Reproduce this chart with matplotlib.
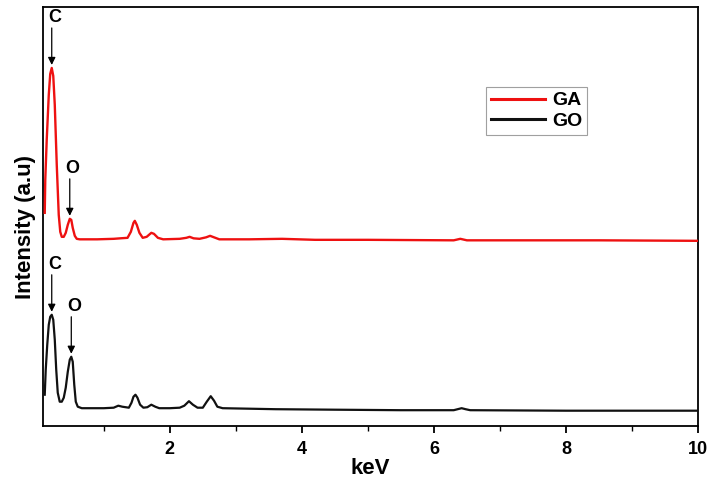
import numpy as np
import matplotlib
matplotlib.use('Agg')
import matplotlib.pyplot as plt
from matplotlib.ticker import MultipleLocator

plt.rcParams.update({
    'font.family': ['Liberation Sans', 'DejaVu Sans'],
    'font.weight': 'bold',
})

# EDX spectra (energy in keV, intensity in a.u.)
go_kev = [0.106, 0.121, 0.144, 0.167, 0.189, 0.212, 0.235, 0.258, 0.280, 0.303,
          0.333, 0.364, 0.394, 0.424, 0.455, 0.485, 0.508, 0.530, 0.553, 0.576,
          0.606, 0.667, 1.00, 1.15, 1.22, 1.28, 1.38, 1.42, 1.45, 1.48,
          1.51, 1.55, 1.60, 1.66, 1.72, 1.78, 1.84, 2.00, 2.15, 2.22,
          2.29, 2.35, 2.42, 2.50, 2.56, 2.62, 2.67, 2.72, 2.80, 3.20,
          3.60, 4.50, 5.50, 6.30, 6.36, 6.42, 6.48, 6.55, 8.00, 10.0]
go_int = [30, 55, 80, 100, 108, 110, 105, 85, 55, 32,
          23, 23, 27, 37, 53, 65, 68, 63, 40, 23,
          18, 16.5, 16.5, 17, 19, 18, 17, 22, 28, 30,
          27, 20, 17, 17.5, 20, 18, 16.5, 16.5, 17, 19,
          23.5, 20, 17, 17, 23, 28.5, 24, 18, 16.5, 16,
          15.5, 15, 14.5, 14.5, 15.5, 16.5, 15.5, 14.5, 14, 14]

ga_kev = [0.106, 0.114, 0.136, 0.167, 0.189, 0.212, 0.235, 0.258, 0.288, 0.318,
          0.341, 0.364, 0.394, 0.424, 0.455, 0.485, 0.508, 0.530, 0.561, 0.591,
          0.636, 0.90, 1.15, 1.25, 1.36, 1.41, 1.45, 1.47, 1.50, 1.54,
          1.59, 1.65, 1.72, 1.76, 1.82, 1.90, 2.15, 2.25, 2.30, 2.36,
          2.45, 2.55, 2.61, 2.67, 2.75, 3.20, 3.70, 4.20, 5.00, 6.30,
          6.40, 6.50, 7.50, 8.50, 10.0]
ga_int = [42, 75, 115, 160, 181, 187, 179, 150, 90, 40,
          23, 18, 18, 22, 30, 36, 35, 27, 19, 16,
          15.5, 15.5, 16, 16.5, 17, 23, 32, 34, 30, 22,
          17, 18, 22, 21, 17, 15.5, 16, 17, 18, 16.5,
          16, 17.5, 19, 17.5, 15.5, 15.5, 16, 15, 15, 14.5,
          16, 14.5, 14.5, 14.5, 14]
ga_offset = 170

# element labels: (label, keV of peak)
ga_peaks = [('C', 0.212), ('O', 0.485)]
go_peaks = [('C', 0.212), ('O', 0.508)]

fig = plt.figure(figsize=(7.1, 4.79), dpi=100)
ax = fig.add_axes([0.0606, 0.1113, 0.9225, 0.8741])

go_y = np.array(go_int)
ga_y = np.array(ga_int) + ga_offset
ax.plot(go_kev, go_y, color='#111111', lw=1.6, label='GO', zorder=3)
ax.plot(ga_kev, ga_y, color='#ee1111', lw=1.7, label='GA', zorder=3)


def label_peaks(kev, vals, peaks):
    kev = np.asarray(kev)
    for name, e in peaks:
        v = vals[np.argmin(np.abs(kev - e))]
        ax.annotate('', xy=(e, v + 3), xytext=(e, v + 40),
                    arrowprops=dict(arrowstyle='-|>', color='#555555', lw=0.9,
                                    mutation_scale=11, shrinkA=0, shrinkB=0,
                                    fc='black', ec='black'))
        ax.text(e + 0.04, v + 50, name, ha='center', va='center',
                fontsize=13, fontweight='bold')


label_peaks(ga_kev, ga_y, ga_peaks)
label_peaks(go_kev, go_y, go_peaks)

ax.set_xlim(0.08, 10)
ax.set_ylim(-1, 418)
ax.xaxis.set_minor_locator(MultipleLocator(1))
ax.set_xticks([2, 4, 6, 8, 10])
ax.set_yticks([])
ax.tick_params(axis='x', which='major', direction='out', length=5, width=1.3,
               labelsize=13, pad=6)
ax.tick_params(axis='x', which='minor', direction='out', length=3.5, width=1.0)
for lab in ax.get_xticklabels():
    lab.set_fontweight('bold')
for sp in ax.spines.values():
    sp.set_linewidth(1.3)

ax.set_xlabel('keV', fontsize=16, fontweight='bold', labelpad=0)
ax.set_ylabel('Intensity (a.u)', fontsize=16, fontweight='bold')
ax.yaxis.set_label_coords(-0.01, 0.475)

handles, labels = ax.get_legend_handles_labels()
leg = ax.legend(handles[::-1], labels[::-1], loc='upper left',
                bbox_to_anchor=(0.676, 0.809), borderaxespad=0,
                fontsize=14, frameon=True, fancybox=False, handlelength=2.8,
                handletextpad=0.35, labelspacing=0.15, borderpad=0.25)
leg.get_frame().set_edgecolor('#888888')
leg.get_frame().set_linewidth(0.8)
for line in leg.get_lines():
    line.set_linewidth(2.2)
for t in leg.get_texts():
    t.set_fontweight('bold')

fig.savefig('out.png', dpi=100)
